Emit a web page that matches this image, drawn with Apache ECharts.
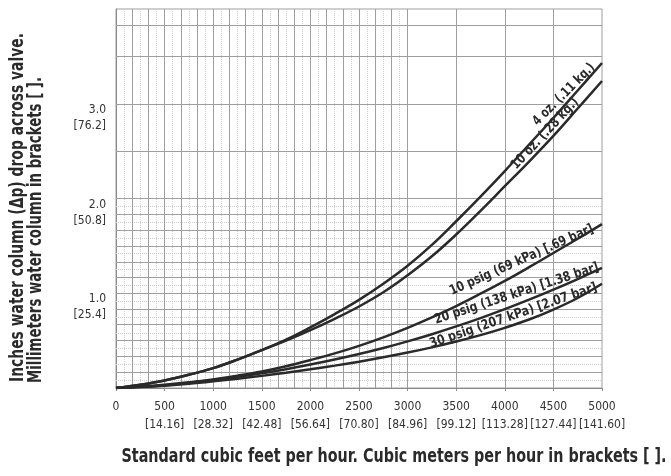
<!DOCTYPE html>
<html>
<head>
<meta charset="utf-8">
<script src="https://cdn.jsdelivr.net/npm/echarts@6/dist/echarts.min.js"></script>
<style>
  html, body { margin: 0; padding: 0; background: #ffffff; }
  #chart { width: 671px; height: 476px; }
</style>
</head>
<body>
<div id="chart"></div>
<script>
// Flow rate, standard cubic feet per hour
const flowScfh = [0, 250, 500, 750, 1000, 1250, 1500, 1750, 2000, 2250, 2500,
                  2750, 3000, 3250, 3500, 3750, 4000, 4250, 4500, 4750, 5000];

// Pressure drop across the valve, inches water column, one list per set pressure
const drop4oz   = [0, 0.035, 0.08, 0.14, 0.21, 0.30, 0.40, 0.51, 0.64, 0.78, 0.93,
                   1.10, 1.29, 1.51, 1.76, 2.02, 2.29, 2.57, 2.85, 3.14, 3.43];
const drop10oz  = [0, 0.035, 0.08, 0.14, 0.21, 0.30, 0.40, 0.50, 0.61, 0.73, 0.86,
                   1.01, 1.19, 1.39, 1.62, 1.87, 2.13, 2.39, 2.66, 2.95, 3.24];
const drop10psig = [0, 0.015, 0.035, 0.06, 0.09, 0.13, 0.175, 0.23, 0.295, 0.365, 0.445,
                    0.535, 0.635, 0.745, 0.865, 0.995, 1.13, 1.275, 1.425, 1.575, 1.73];
const drop20psig = [0, 0.012, 0.03, 0.054, 0.084, 0.118, 0.156, 0.199, 0.247, 0.30, 0.358,
                    0.422, 0.492, 0.568, 0.65, 0.738, 0.832, 0.932, 1.038, 1.15, 1.268];
const drop30psig = [0, 0.01, 0.025, 0.045, 0.07, 0.098, 0.128, 0.161, 0.197, 0.236, 0.278,
                    0.324, 0.374, 0.429, 0.49, 0.558, 0.635, 0.723, 0.828, 0.95, 1.10];

// Curve captions
const curveNames = ['4 oz. (.11 kg.)', '10 oz. (.28 kg.)',
                    '10 psig (69 kPa) [.69 bar]', '20 psig (138 kPa) [1.38 bar]',
                    '30 psig (207 kPa) [2.07 bar]'];

// Tick labels
const xTickScfh = [0, 500, 1000, 1500, 2000, 2500, 3000, 3500, 4000, 4500, 5000];
const xTickM3h  = ['', '14.16', '28.32', '42.48', '56.64', '70.80', '84.96',
                   '99.12', '113.28', '127.44', '141.60'];
const yTickInH2O = [1.0, 2.0, 3.0];
const yTickMmH2O = ['25.4', '50.8', '76.2'];

// Axis titles
const yTitleLines = ['Inches water column (\u0394p) drop across valve.',
                     'Millimeters water column in brackets [ ].'];
const xTitle = 'Standard cubic feet per hour. Cubic meters per hour in brackets [ ].';

// Graph-paper rulings: fine below 3000 scfh and 2.0 in., coarse elsewhere
const gridFineX = [], gridMinorX = [];
for (let k = 1; k < 18; k++) gridFineX.push(k * 500 / 3);
for (let k = 0; k < 18; k++) gridMinorX.push((k + 0.5) * 500 / 3);
const gridCoarseX = [3000, 3500, 4000, 4500];
const gridFineY = [], gridMinorY = [];
for (let k = 1; k < 12; k++) gridFineY.push(k / 6);
for (let k = 0; k < 12; k++) gridMinorY.push((k + 0.5) / 6);
const gridCoarseY = [2.0, 2.5, 3.0, 3.5, 3.833];

const FAMILY = "'DejaVu Sans Condensed', 'Liberation Sans Narrow', sans-serif";
const INK = '#2a2a2a';
const RULE = '#9e9e9e';
const RULE_MINOR = '#d0d0d0';

const curves = [drop4oz, drop10oz, drop10psig, drop20psig, drop30psig];

// caption placement: anchor sample on the curve, slant (deg), shift along the text,
// lift off the curve, and drawn length of the caption in px
const captionIndex  = [18, 18, 17, 17, 16];
const captionAngle  = [45, 47, 24, 18, 19];
const captionAlong  = [24, -4, -4, -10, 12];
const captionLift   = [9, 7.5, 9.5, 9.5, 8.5];
const captionLength = [82, 92, 156, 172, 176];

const chart = echarts.init(document.getElementById('chart'), null, { renderer: 'canvas' });

function rulings(values, axis, color, type) {
  return values.map(v => ({ [axis]: v, lineStyle: { color: color, type: type, width: 1 } }));
}

const series = [];
series.push({
  type: 'line',
  data: [[0, 0]],
  symbol: 'none',
  lineStyle: { width: 0 },
  silent: true,
  z: 1,
  markLine: {
    silent: true,
    z: 1,
    symbol: 'none',
    animation: false,
    label: { show: false },
    data: [].concat(
      rulings(gridMinorX, 'xAxis', RULE_MINOR, 'dotted'),
      rulings(gridMinorY, 'yAxis', RULE_MINOR, 'dotted'),
      rulings(gridFineX.concat(gridCoarseX), 'xAxis', RULE, 'solid'),
      rulings(gridFineY.concat(gridCoarseY), 'yAxis', RULE, 'solid')
    )
  }
});

curves.forEach((arr, i) => {
  series.push({
    type: 'line',
    name: curveNames[i],
    data: flowScfh.map((x, j) => [x, arr[j]]),
    smooth: 0.4,
    symbol: 'none',
    lineStyle: { color: INK, width: 2.5 },
    z: 6,
    silent: true
  });
});

chart.setOption({
  animation: false,
  backgroundColor: '#ffffff',
  grid: { left: 116, right: 69, top: 9, bottom: 88, show: true, borderColor: RULE, borderWidth: 1 },
  xAxis: {
    type: 'value', min: 0, max: 5000, interval: 500,
    splitLine: { show: false },
    axisLine: { lineStyle: { color: '#8a8a8a', width: 1 } },
    axisTick: { show: true, length: 3, lineStyle: { color: '#8a8a8a' } },
    axisLabel: {
      margin: 10,
      color: '#333',
      fontFamily: FAMILY,
      fontSize: 12,
      lineHeight: 18,
      formatter: v => {
        const i = xTickScfh.indexOf(v);
        if (i < 0) return '';
        return xTickM3h[i] ? v + '\n[' + xTickM3h[i] + ']' : String(v);
      }
    }
  },
  yAxis: {
    type: 'value', min: 0, max: 4, interval: 1,
    splitLine: { show: false },
    axisLine: { show: true, lineStyle: { color: '#8a8a8a', width: 1 } },
    axisTick: { show: false },
    axisLabel: {
      margin: 10,
      color: '#333',
      fontFamily: FAMILY,
      fontSize: 12,
      align: 'right',
      rich: {
        gap: { lineHeight: 28, fontSize: 12 },
        v: { lineHeight: 16, fontSize: 12, fontFamily: FAMILY, color: '#333', align: 'right' }
      },
      formatter: v => {
        const i = yTickInH2O.indexOf(v);
        return i < 0 ? '' : '{gap| }\n{v|' + v.toFixed(1) + '}\n{v|[' + yTickMmH2O[i] + ']}';
      }
    }
  },
  series: series
});

// text measuring, used to condense captions and titles to their set length
const measureCtx = document.createElement('canvas').getContext('2d');
function textWidth(text, font) {
  measureCtx.font = font;
  return measureCtx.measureText(text).width;
}

function squeezedText(text, font, length, x, y, rotation, align) {
  return {
    type: 'text', x: x, y: y, rotation: rotation, silent: true, z: 10,
    scaleX: length / textWidth(text, font),
    style: { text: text, font: font, fill: '#2a2a2a', textAlign: align, textVerticalAlign: 'middle' }
  };
}

const TITLE_FONT = "bold 19px " + FAMILY;
const CAPTION_FONT = "bold 13.5px " + FAMILY;

const graphics = [
  squeezedText(yTitleLines[0], TITLE_FONT, 349, 18, 382, Math.PI / 2, 'left'),
  squeezedText(yTitleLines[1], TITLE_FONT, 306, 36, 383, Math.PI / 2, 'left'),
  squeezedText(xTitle, TITLE_FONT, 545, 394, 457, 0, 'center')
];

curves.forEach((arr, i) => {
  const idx = captionIndex[i];
  const p = chart.convertToPixel({ gridIndex: 0 }, [flowScfh[idx], arr[idx]]);
  const a = captionAngle[i] * Math.PI / 180;
  const cx = p[0] + captionAlong[i] * Math.cos(a) - captionLift[i] * Math.sin(a);
  const cy = p[1] - captionAlong[i] * Math.sin(a) - captionLift[i] * Math.cos(a);
  graphics.push(squeezedText(curveNames[i], CAPTION_FONT, captionLength[i], cx, cy, a, 'center'));
});

chart.setOption({ graphic: graphics });
</script>
</body>
</html>
